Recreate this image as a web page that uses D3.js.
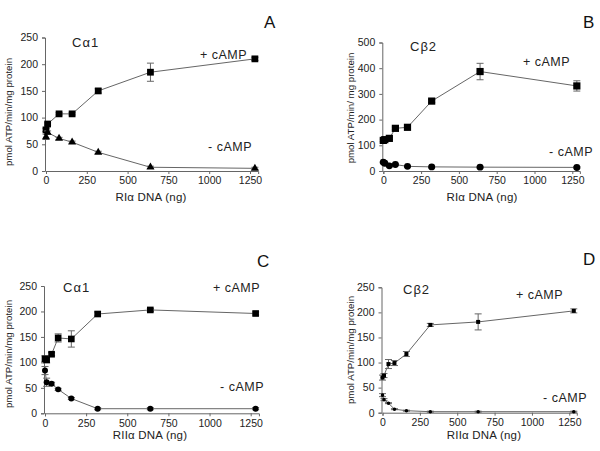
<!DOCTYPE html>
<html><head><meta charset="utf-8">
<script src="https://cdn.jsdelivr.net/npm/d3@7"></script>
<style>
html,body{margin:0;padding:0;background:#fff;}
svg{display:block;font-family:"Liberation Sans",Arial,sans-serif;}
</style></head>
<body><svg id="chart" width="600" height="451"></svg>
<script>
// ---- data ----
const xTicks = [0, 250, 500, 750, 1000, 1250];

const A_x = [0, 10, 80, 160, 320, 640, 1280];
const A_plus = [77, 88, 107, 107, 150, 185, 210];
const A_plusErr = [3, 2, 2, 2, 4, 17, 3];
const A_minus = [64, 72, 61, 54, 35, 7, 5];
const A_minusErr = [5, 3, 2, 2, 2, 2, 2];
const A_yTicks = [0, 50, 100, 150, 200, 250];

const B_x = [0, 10, 40, 80, 160, 320, 640, 1280];
const B_plus = [119, 122, 127, 166, 170, 272, 387, 331];
const B_plusErr = [5, 5, 5, 5, 5, 6, 32, 20];
const B_minus = [34, 30, 20, 25, 18, 16, 15, 14];
const B_minusErr = [3, 3, 3, 3, 3, 3, 3, 3];
const B_yTicks = [0, 100, 200, 300, 400, 500];

const C_x = [0, 10, 40, 80, 160, 320, 640, 1280];
const C_plus = [107, 105, 116, 148, 146, 195, 203, 196];
const C_plusErr = [6, 6, 3, 8, 16, 4, 3, 3];
const C_minus = [84, 61, 58, 47, 29, 9, 9, 9];
const C_minusErr = [8, 8, 3, 2, 2, 2, 2, 2];
const C_yTicks = [0, 50, 100, 150, 200, 250];

const D_x = [0, 10, 40, 80, 160, 320, 640, 1280];
const D_plus = [70, 74, 97, 99, 117, 175, 181, 203];
const D_plusErr = [5, 4, 9, 5, 5, 3, 16, 4];
const D_minus = [35, 26, 19, 7, 4, 2, 2, 2];
const D_minusErr = [3, 2, 1, 1, 1, 1, 1, 1];
const D_yTicks = [0, 50, 100, 150, 200, 250];

const letters = ["A", "B", "C", "D"];
const isoforms = ["C\u03b11", "C\u03b22", "C\u03b11", "C\u03b22"];
const xTitles = ["RI\u03b1 DNA (ng)", "RI\u03b1 DNA (ng)", "RII\u03b1 DNA (ng)", "RII\u03b1 DNA (ng)"];
const yTitles = ["pmol ATP/min/mg protein", "pmol ATP/min/ mg protein", "pmol ATP/min/mg protein", "pmol ATP/min/mg protein"];
const plusLabel = "+ cAMP";
const minusLabel = "- cAMP";

// ---- layout ----
const panels = [
  {x: A_x, plus: A_plus, plusErr: A_plusErr, minus: A_minus, minusErr: A_minusErr, yTicks: A_yTicks, yMax: 250,
   x0: 46, x1250: 250, y0: 171, yTop: 37.5, ytx: 12, yty: 112, xtx: 151, xty: 201,
   iso: [72, 47], letter: [264, 28], plusPos: [200, 59], minusPos: [208, 151],
   sq: 46, minusSym: d3.symbolTriangle, msz: 28},
  {x: B_x, plus: B_plus, plusErr: B_plusErr, minus: B_minus, minusErr: B_minusErr, yTicks: B_yTicks, yMax: 500,
   x0: 383.3, x1250: 572.3, y0: 171, yTop: 42.5, ytx: 354, yty: 108, xtx: 482, xty: 201,
   iso: [410, 51], letter: [583, 28], plusPos: [523, 66], minusPos: [549, 156],
   sq: 52, minusSym: d3.symbolCircle, msz: 38},
  {x: C_x, plus: C_plus, plusErr: C_plusErr, minus: C_minus, minusErr: C_minusErr, yTicks: C_yTicks, yMax: 250,
   x0: 45, x1250: 250.7, y0: 413.3, yTop: 286, ytx: 12, yty: 354, xtx: 150, xty: 439,
   iso: [63, 292], letter: [257, 267], plusPos: [213, 292], minusPos: [220, 391],
   sq: 44, minusSym: d3.symbolCircle, msz: 28},
  {x: D_x, plus: D_plus, plusErr: D_plusErr, minus: D_minus, minusErr: D_minusErr, yTicks: D_yTicks, yMax: 250,
   x0: 382.5, x1250: 569.3, y0: 412.7, yTop: 287.3, ytx: 354, yty: 350, xtx: 484, xty: 439,
   iso: [403, 294], letter: [583, 265], plusPos: [516, 299], minusPos: [543, 402],
   sq: 16, minusSym: d3.symbolCircle, msz: 10}
];

const svg = d3.select("#chart");
const lineCol = "#666";
const txtCol = "#222";

panels.forEach((p, i) => {
  const pxPer = (p.x1250 - p.x0) / 1250;
  const xMaxDom = 1300;
  const xs = d3.scaleLinear().domain([0, xMaxDom]).range([p.x0, p.x0 + pxPer * xMaxDom]);
  const ys = d3.scaleLinear().domain([0, p.yMax]).range([p.y0, p.yTop]);
  const g = svg.append("g");

  const xa = g.append("g").attr("transform", `translate(0,${p.y0})`)
    .call(d3.axisBottom(xs).tickValues(xTicks).tickSize(3).tickPadding(3).tickFormat(d3.format("d")));
  const ya = g.append("g").attr("transform", `translate(${p.x0 - 1},0)`)
    .call(d3.axisLeft(ys).tickValues(p.yTicks).tickSize(3).tickPadding(4).tickFormat(d3.format("d")));
  [xa, ya].forEach(a => {
    a.select(".domain").attr("stroke", lineCol).attr("stroke-width", 1);
    a.selectAll(".tick line").attr("stroke", lineCol);
    a.selectAll(".tick text").attr("fill", txtCol).style("font-size", "10.5px").style("font-family", "'Liberation Sans',Arial,sans-serif");
  });

  // axis titles
  g.append("text").attr("x", p.xtx).attr("y", p.xty).attr("text-anchor", "middle")
    .style("font-size", "11.5px").attr("fill", txtCol).style("letter-spacing", "0.2px").text(xTitles[i]);
  g.append("text").attr("transform", `translate(${p.ytx},${p.yty}) rotate(-90)`).attr("text-anchor", "middle")
    .style("font-size", "9.7px").attr("fill", txtCol).text(yTitles[i]);

  // annotations
  g.append("text").attr("x", p.iso[0]).attr("y", p.iso[1]).style("font-size", "13px").style("letter-spacing", "1px").attr("fill", txtCol).text(isoforms[i]);
  g.append("text").attr("x", p.letter[0]).attr("y", p.letter[1]).style("font-size", "17px").attr("fill", "#111").text(letters[i]);
  g.append("text").attr("x", p.plusPos[0]).attr("y", p.plusPos[1]).style("font-size", "12.5px").style("letter-spacing", "0.5px").attr("fill", txtCol).text(plusLabel);
  g.append("text").attr("x", p.minusPos[0]).attr("y", p.minusPos[1]).style("font-size", "12.5px").style("letter-spacing", "0.5px").attr("fill", txtCol).text(minusLabel);

  const line = d3.line().x(d => xs(d[0])).y(d => ys(d[1]));
  const series = [
    {vals: p.plus, err: p.plusErr, sym: d3.symbolSquare, size: p.sq},
    {vals: p.minus, err: p.minusErr, sym: p.minusSym, size: p.msz}
  ];
  series.forEach(s => {
    const pts = p.x.map((xv, k) => [xv, s.vals[k], s.err[k]]);
    g.append("path").datum(pts).attr("d", line).attr("fill", "none").attr("stroke", lineCol).attr("stroke-width", 1);
    const eb = g.append("g");
    pts.forEach(d => {
      const cx = xs(d[0]), yl = ys(d[1] - d[2]), yh = ys(d[1] + d[2]);
      eb.append("line").attr("x1", cx).attr("x2", cx).attr("y1", yl).attr("y2", yh).attr("stroke", lineCol);
      eb.append("line").attr("x1", cx - 3.5).attr("x2", cx + 3.5).attr("y1", yl).attr("y2", yl).attr("stroke", lineCol);
      eb.append("line").attr("x1", cx - 3.5).attr("x2", cx + 3.5).attr("y1", yh).attr("y2", yh).attr("stroke", lineCol);
    });
    g.append("g").selectAll("path").data(pts).join("path")
      .attr("transform", d => `translate(${xs(d[0])},${ys(d[1])})`)
      .attr("d", d3.symbol().type(s.sym).size(s.size))
      .attr("fill", "#000");
  });
});
</script>
</body></html>
